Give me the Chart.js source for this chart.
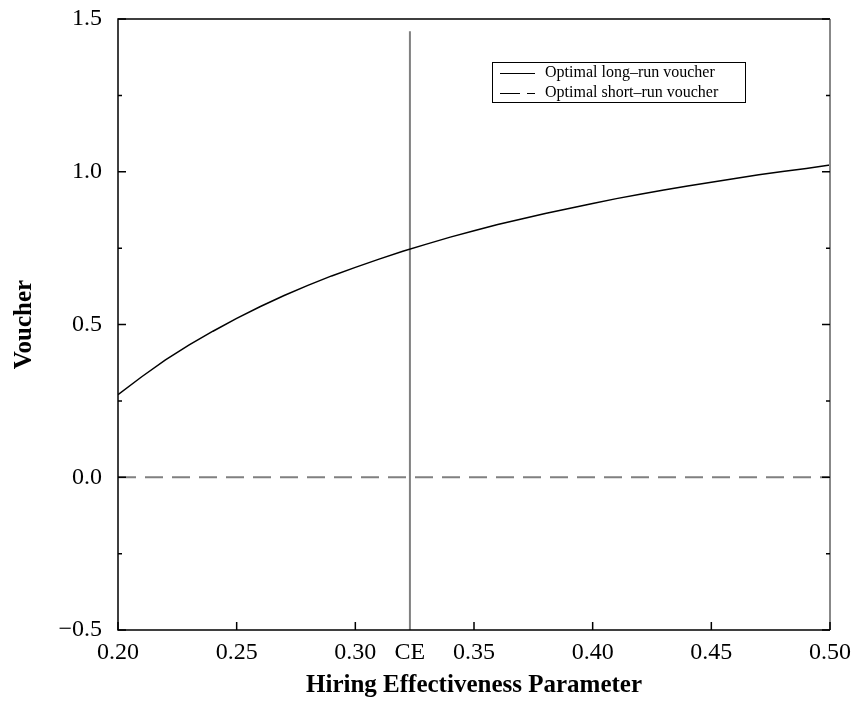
<!DOCTYPE html>
<html><head><meta charset="utf-8">
<script src="https://cdn.jsdelivr.net/npm/chart.js@4"></script>
<style>html,body{margin:0;padding:0;background:#fff}#wrap{width:858px;height:702px}</style>
</head><body><div id="wrap"><canvas id="c" width="858" height="702"></canvas></div>
<script>
const hiringParam = [0.20,0.21,0.22,0.23,0.24,0.25,0.26,0.27,0.28,0.29,0.30,0.31,0.32,0.33,0.34,0.35,0.36,0.37,0.38,0.39,0.40,0.41,0.42,0.43,0.44,0.45,0.46,0.47,0.48,0.49,0.50];
const longRunVoucher = [0.270,0.329,0.384,0.433,0.478,0.520,0.559,0.595,0.628,0.659,0.687,0.714,0.740,0.763,0.786,0.807,0.827,0.845,0.863,0.880,0.896,0.912,0.926,0.940,0.953,0.966,0.978,0.990,1.001,1.011,1.022];
const shortRunX = [0.20,0.50];
const shortRunVoucher = [0,0];
const ceValue = 0.323;
const ceLineY = [-0.5,1.46];
const xTickValues = [0.20,0.25,0.30,0.35,0.40,0.45,0.50];
const yTickValues = [-0.5,0.0,0.5,1.0,1.5];
const yMinorTicks = [-0.25,0.25,0.75,1.25];
const seriesLabels = ['Optimal long\u2013run voucher','Optimal short\u2013run voucher'];

const SERIF = "'Liberation Serif','Times New Roman',serif";

const framePlugin = {
  id:'frame',
  afterDatasetsDraw(chart){
    const {ctx, chartArea:a, scales:{x,y}} = chart;
    ctx.save();
    ctx.lineWidth = 1.5;
    ctx.strokeStyle = '#000';
    ctx.beginPath();
    ctx.moveTo(a.right, a.top); ctx.lineTo(a.left, a.top); ctx.lineTo(a.left, a.bottom); ctx.lineTo(a.right, a.bottom);
    ctx.stroke();
    ctx.strokeStyle = '#888';
    ctx.lineWidth = 2;
    ctx.beginPath(); ctx.moveTo(a.right, a.top); ctx.lineTo(a.right, a.bottom); ctx.stroke();
    ctx.strokeStyle = '#000';
    ctx.lineWidth = 1.5;
    ctx.beginPath();
    yTickValues.forEach(v=>{const p=y.getPixelForValue(v);ctx.moveTo(a.left,p);ctx.lineTo(a.left+8,p);ctx.moveTo(a.right,p);ctx.lineTo(a.right-8,p);});
    yMinorTicks.forEach(v=>{const p=y.getPixelForValue(v);ctx.moveTo(a.left,p);ctx.lineTo(a.left+4,p);ctx.moveTo(a.right,p);ctx.lineTo(a.right-4,p);});
    xTickValues.forEach(v=>{const p=x.getPixelForValue(v);ctx.moveTo(p,a.bottom);ctx.lineTo(p,a.bottom-8);});
    ctx.stroke();
    const lx = 492, ly = 62, lw = 253, lh = 40;
    ctx.lineWidth = 1;
    ctx.strokeStyle = '#000';
    ctx.strokeRect(lx+0.5, ly+0.5, lw, lh);
    ctx.font = "16px " + SERIF;
    ctx.fillStyle = '#000';
    ctx.textBaseline = 'middle';
    ctx.textAlign = 'left';
    const rows = [73, 93];
    chart.data.datasets.slice(0,2).forEach((ds,i)=>{
      ctx.beginPath();
      ctx.setLineDash(i===0?[]:[20,7]);
      ctx.moveTo(500, rows[i]+0.5); ctx.lineTo(535, rows[i]+0.5);
      ctx.stroke();
      ctx.setLineDash([]);
      ctx.fillText(ds.label, 545, rows[i]);
    });
    ctx.restore();
  }
};

new Chart(document.getElementById('c'), {
  type:'scatter',
  data:{datasets:[
    {label:seriesLabels[0], data:hiringParam.map((v,i)=>({x:v,y:longRunVoucher[i]})), showLine:true, borderColor:'#000', borderWidth:1.5, pointRadius:0, tension:0},
    {label:seriesLabels[1], data:shortRunX.map((v,i)=>({x:v,y:shortRunVoucher[i]})), showLine:true, borderColor:'#808080', borderWidth:2, borderDash:[18,9], pointRadius:0},
    {label:'CE', data:ceLineY.map(v=>({x:ceValue,y:v})), showLine:true, borderColor:'#808080', borderWidth:2, pointRadius:0}
  ]},
  options:{
    responsive:false, animation:false, devicePixelRatio:1,
    layout:{padding:{top:19,right:28,left:0,bottom:0}},
    plugins:{legend:{display:false}, tooltip:{enabled:false}},
    scales:{
      x:{type:'linear', min:0.2, max:0.5,
        afterBuildTicks:(s)=>{s.ticks=[...xTickValues, ceValue].sort((a,b)=>a-b).map(v=>({value:v}));},
        afterFit:(s)=>{s.height=72; s.paddingLeft=0; s.paddingRight=0;},
        grid:{display:false, drawTicks:false}, border:{display:false},
        ticks:{autoSkip:false, maxRotation:0, padding:8, color:'#000', font:{family:SERIF,size:24},
          callback:(v)=> Math.abs(v-ceValue)<1e-9 ? 'CE' : Number(v).toFixed(2)},
        title:{display:true, text:'Hiring Effectiveness Parameter', color:'#000', font:{family:SERIF,size:25,weight:'bold'}, padding:{top:0,bottom:1}}
      },
      y:{type:'linear', min:-0.5, max:1.5,
        afterBuildTicks:(s)=>{s.ticks=yTickValues.map(v=>({value:v}));},
        afterFit:(s)=>{s.width=118; s.paddingTop=0; s.paddingBottom=0;},
        grid:{display:false, drawTicks:false}, border:{display:false},
        ticks:{padding:16, color:'#000', font:{family:SERIF,size:24},
          callback:(v)=> (v<0?'\u2212':'') + Math.abs(Number(v)).toFixed(1)},
        title:{display:true, text:'Voucher', color:'#000', font:{family:SERIF,size:25,weight:'bold'}, padding:{top:10,bottom:0}}
      }
    }
  },
  plugins:[framePlugin]
});
</script></body></html>
